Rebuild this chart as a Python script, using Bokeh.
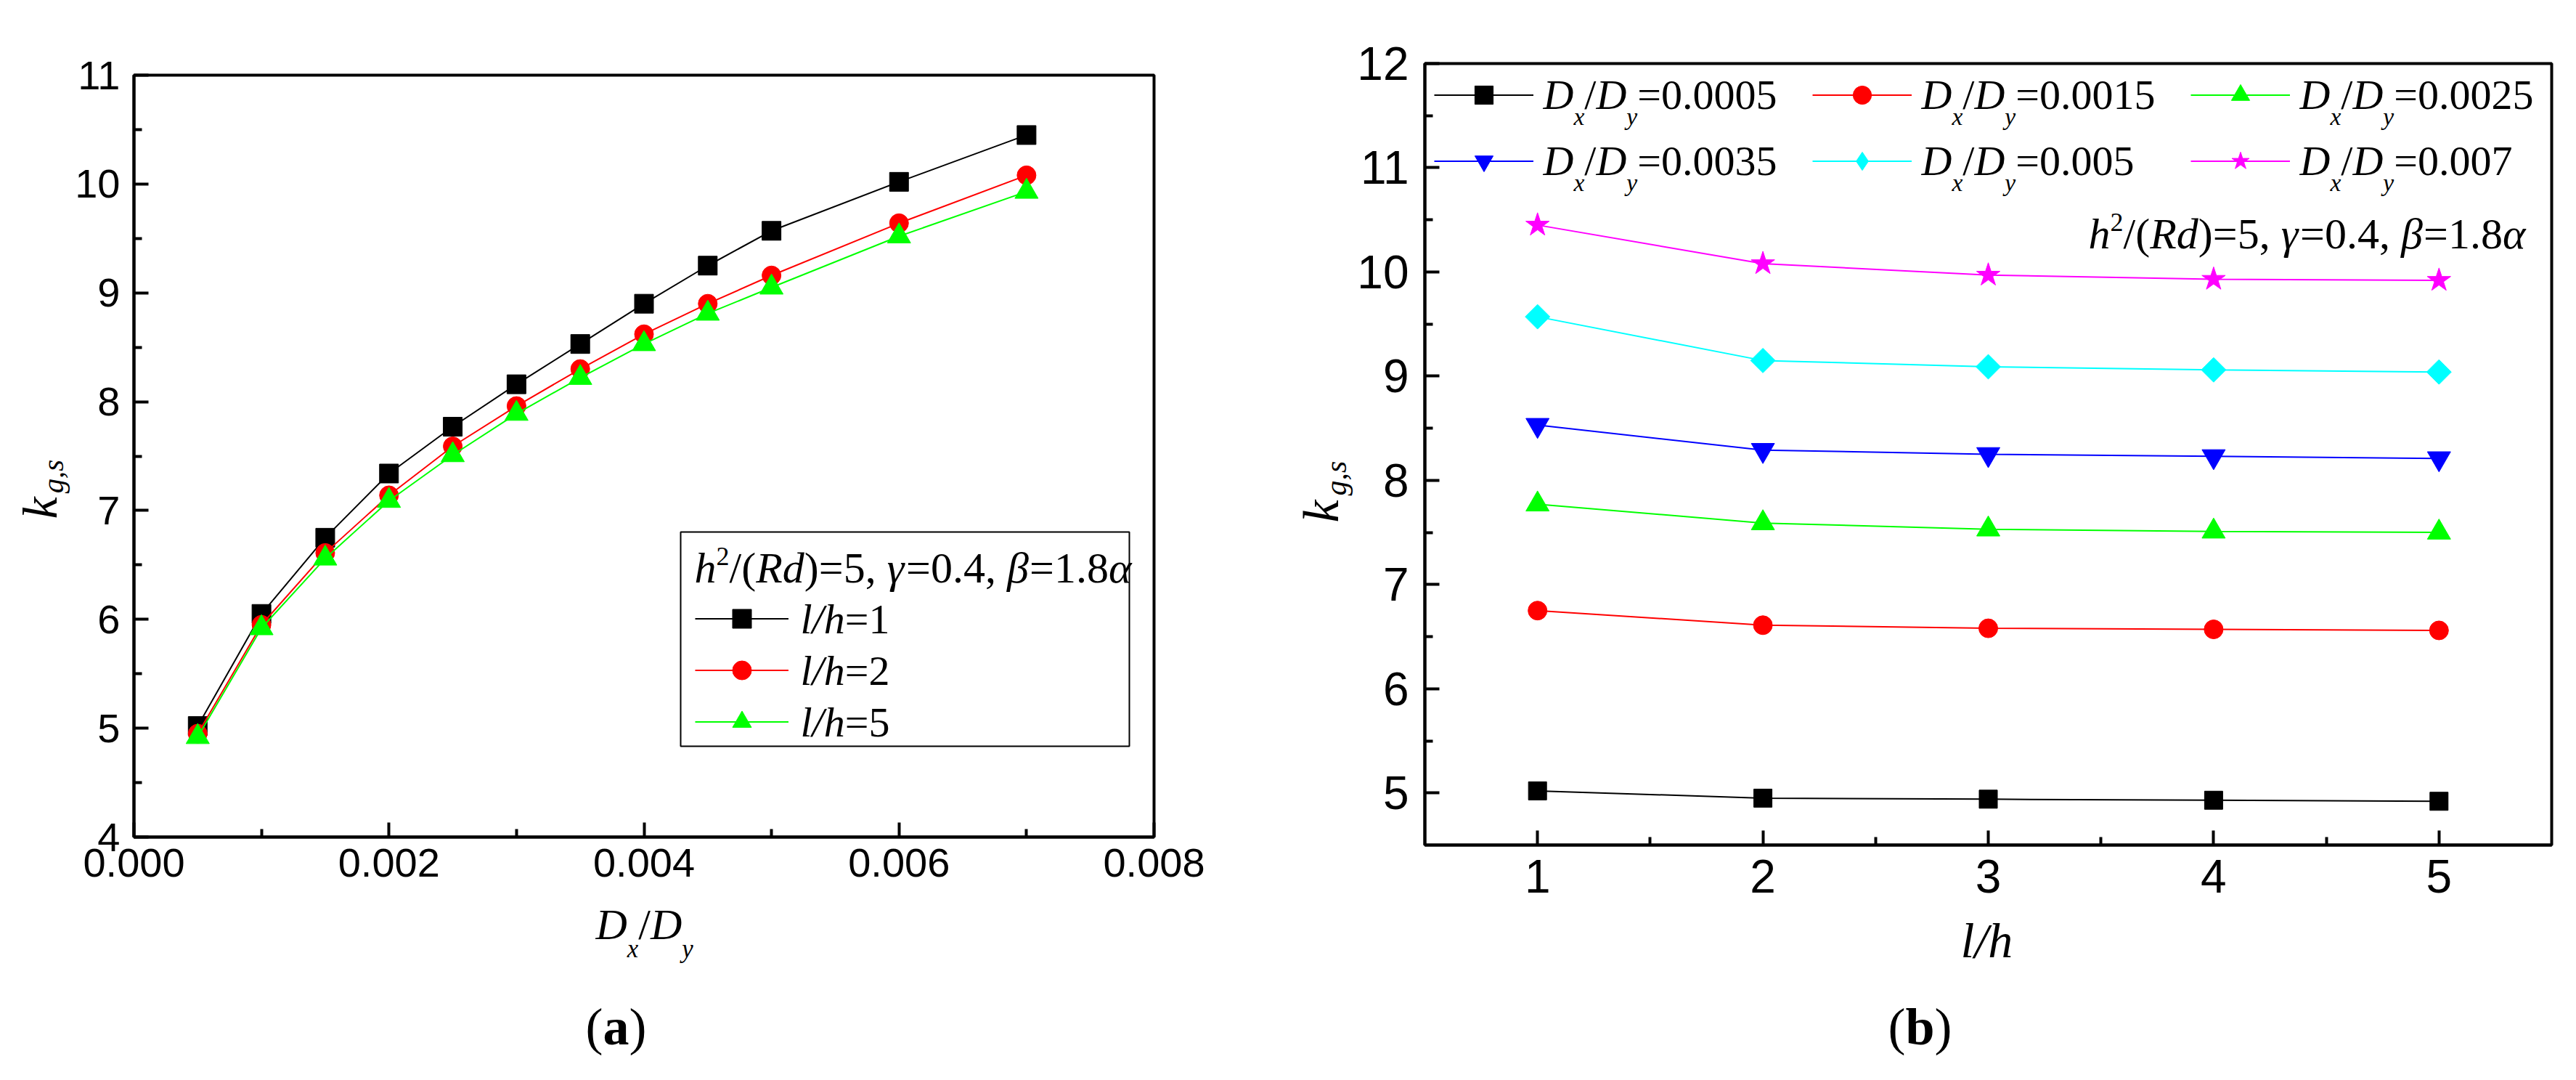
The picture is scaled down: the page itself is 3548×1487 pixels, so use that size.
import math
from bokeh.plotting import figure
from bokeh.layouts import row, column
from bokeh.models import (FixedTicker, PrintfTickFormatter, Legend, LegendItem, Label,
                          BoxAnnotation, Range1d)
from bokeh.embed import file_html
from bokeh.resources import INLINE

# ---------------- data: panel (a) ----------------
dxdy = [0.0005, 0.001, 0.0015, 0.002, 0.0025, 0.003, 0.0035, 0.004, 0.0045, 0.005, 0.006, 0.007]
k_lh1 = [5.02, 6.05, 6.75, 7.34, 7.77, 8.16, 8.53, 8.90, 9.25, 9.57, 10.02, 10.45]
k_lh2 = [4.95, 5.95, 6.61, 7.14, 7.59, 7.96, 8.30, 8.62, 8.90, 9.16, 9.64, 10.08]
k_lh5 = [4.92, 5.92, 6.56, 7.09, 7.51, 7.89, 8.22, 8.53, 8.81, 9.05, 9.52, 9.93]
a_labels = ["1", "2", "5"]
a_xticks = [0.0, 0.002, 0.004, 0.006, 0.008]
a_xminor = [0.001, 0.003, 0.005, 0.007]
a_yticks = [4, 5, 6, 7, 8, 9, 10, 11]
a_yminor = [4.5, 5.5, 6.5, 7.5, 8.5, 9.5, 10.5]

# ---------------- data: panel (b) ----------------
lh = [1, 2, 3, 4, 5]
k_0005 = [5.02, 4.95, 4.94, 4.93, 4.92]
k_0015 = [6.75, 6.61, 6.58, 6.57, 6.56]
k_0025 = [7.77, 7.59, 7.53, 7.51, 7.50]
k_0035 = [8.53, 8.29, 8.25, 8.23, 8.21]
k_005 = [9.57, 9.15, 9.09, 9.06, 9.04]
k_007 = [10.45, 10.08, 9.97, 9.93, 9.92]
b_labels = ["0.0005", "0.0015", "0.0025", "0.0035", "0.005", "0.007"]
b_xticks = [1, 2, 3, 4, 5]
b_xminor = [1.5, 2.5, 3.5, 4.5]
b_yticks = [5, 6, 7, 8, 9, 10, 11, 12]
b_yminor = [5.5, 6.5, 7.5, 8.5, 9.5, 10.5, 11.5]

SERIF = "Liberation Serif"
SANS = "Liberation Sans"

# Times-metric advance widths (1/1000 em)
W_R = {' ': 250, '(': 333, ')': 333, ',': 250, '.': 250, '/': 278, '=': 564,
       'α': 540, 'β': 520, 'γ': 440}
for d in "0123456789":
    W_R[d] = 500
W_I = {'h': 500, 'R': 611, 'd': 500, 'D': 722, 'x': 444, 'y': 444, 'l': 278, 'k': 444,
       'g': 500, 's': 389, ',': 250, '/': 278, 'α': 540, 'β': 520, 'γ': 440}
W_B = {'a': 500, 'b': 556, '(': 333, ')': 333}
MID = 0.34  # baseline lies this many em below the middle of the text box


def text_width(txt, style, fs):
    table = W_I if style == "italic" else (W_B if style == "bold" else W_R)
    return sum(table.get(ch, W_R.get(ch, 500)) for ch in txt) * fs / 1000.0


def rich(p, origin, parts, x, y, size, angle=0.0, color="black"):
    """Place a run of styled text pieces; x, y = page position of baseline start.
    parts: (text, style, scale, baseline shift, gap before)"""
    ox, oy = origin
    dx, dy = math.cos(angle), -math.sin(angle)
    nx, ny = math.sin(angle), math.cos(angle)
    pos = 0.0
    for part in parts:
        txt, style, scale, shift = part[:4]
        gap = part[4] if len(part) > 4 else 0
        pos += gap
        fs = size * scale
        off = shift - MID * fs
        cx = x + pos * dx + off * nx
        cy = y + pos * dy + off * ny
        p.add_layout(Label(x=cx - ox, y=cy - oy, x_units="canvas", y_units="canvas",
                           text=txt, angle=angle, text_font=SERIF, text_font_style=style,
                           text_font_size=f"{fs:.1f}px", text_color=color,
                           text_align="left", text_baseline="middle"))
        pos += text_width(txt, style, fs)


def text_fig(width, height):
    f = figure(width=width, height=height, x_range=Range1d(0, 1), y_range=Range1d(0, 1),
               x_axis_type=None, y_axis_type=None, toolbar_location=None,
               output_backend="svg", min_border=0)
    f.outline_line_color = None
    f.background_fill_color = "white"
    f.border_fill_color = "white"
    return f


def base_fig(width, height, xr, yr, borders, tick_fs, sx, sy):
    l, r, t, b = borders
    p = figure(width=width, height=height, x_range=Range1d(*xr), y_range=Range1d(*yr),
               output_backend="svg", toolbar_location=None,
               min_border_left=l, min_border_right=r, min_border_top=t, min_border_bottom=b)
    p.xgrid.visible = False
    p.ygrid.visible = False
    p.outline_line_color = "black"
    p.outline_line_width = 4
    p.outline_line_alpha = 1
    p.background_fill_color = "white"
    p.border_fill_color = "white"
    for ax in (p.xaxis[0], p.yaxis[0]):
        ax.axis_line_width = 4
        ax.major_tick_line_width = 4
        ax.minor_tick_line_width = 4
        ax.major_tick_in = 20
        ax.major_tick_out = 0
        ax.minor_tick_in = 11
        ax.minor_tick_out = 0
        ax.major_label_text_font = SANS
        ax.major_label_text_font_size = f"{tick_fs}px"
        ax.major_label_text_color = "black"
    p.xaxis[0].major_label_standoff = sx
    p.yaxis[0].major_label_standoff = sy
    return p


def italic_dxdy(sub_shift):
    return [("D", "italic", 1, 0), ("x", "italic", 0.58, sub_shift), ("/", "normal", 1, 0),
            ("D", "italic", 1, 0), ("y", "italic", 0.58, sub_shift)]


header = [("h", "italic", 1, 0), ("2", "normal", 0.6, -24), ("/(", "normal", 1, 0),
          ("Rd", "italic", 1, 0), (")=5, ", "normal", 1, 0), ("γ", "italic", 1, 0),
          ("=0.4, ", "normal", 1, 0), ("β", "italic", 1, 0), ("=1.8", "normal", 1, 0),
          ("α", "italic", 1, 0)]

# ======================= panel (a) =======================
# page x 0..1708 ; rows: plot 0..1240, text 1240..1487
OKA = (0, 0)
ka = text_fig(100, 1240)
OA = (100, 0)
pa = base_fig(1608, 1240, (0.0, 0.008), (4, 11), (83, 119, 103, 88), 56, 16, 19)
pa.xaxis[0].ticker = FixedTicker(ticks=a_xticks, minor_ticks=a_xminor)
pa.xaxis[0].formatter = PrintfTickFormatter(format="%.3f")
pa.yaxis[0].ticker = FixedTicker(ticks=a_yticks, minor_ticks=a_yminor)
pa.yaxis[0].formatter = PrintfTickFormatter(format="%d")
OBA = (0, 1240)
ba = text_fig(1708, 247)

a_series = [(k_lh1, "black", "square", 26), (k_lh2, "red", "circle", 26),
            (k_lh5, "#00ff00", "triangle", 32)]
a_items = []
for ys, col, mk, sz in a_series:
    ln = pa.line(dxdy, ys, line_color=col, line_width=2)
    sc = pa.scatter(dxdy, ys, marker=mk, size=sz, fill_color=col, line_color=col)
    a_items.append(LegendItem(label=" ", renderers=[ln, sc]))

pa.add_layout(BoxAnnotation(left=937 - OA[0], right=1555 - OA[0], top=732 - OA[1],
                            bottom=1027 - OA[1], left_units="canvas", right_units="canvas",
                            top_units="canvas", bottom_units="canvas",
                            fill_color="white", fill_alpha=1, line_color="black",
                            line_width=2, line_alpha=1))
leg_a = Legend(items=a_items, location=(773, 126), glyph_width=129, glyph_height=65,
               spacing=6, padding=0, margin=0, label_standoff=0, label_width=0,
               label_text_font_size="2px", border_line_color=None,
               background_fill_alpha=0)
pa.add_layout(leg_a)

rich(pa, OA, header, 956, 802, 60)
for i, lab in enumerate(a_labels):
    rich(pa, OA, [("l/h", "italic", 1, 0), ("=" + lab, "normal", 1, 0)],
         1102, 872 + 71 * i, 58)

rich(ka, OKA, [("k", "italic", 1, 0), ("g,s", "italic", 0.6, 9, 5)], 78, 714, 68,
     angle=math.pi / 2)
rich(ba, OBA, italic_dxdy(25), 820, 1293, 60)
rich(ba, OBA, [("(", "normal", 1, 0), ("a", "bold", 1, 0), (")", "normal", 1, 0)],
     806, 1438, 72)

# ======================= panel (b) =======================
# page x 1708..3548 ; rows: plot 0..1258, text 1258..1487
OKB = (1708, 0)
kb = text_fig(158, 1258)
OB = (1866, 0)
pb = base_fig(1682, 1258, (0.5, 5.5), (4.5, 12), (93, 34, 87, 95), 64, 20, 22)
pb.xaxis[0].ticker = FixedTicker(ticks=b_xticks, minor_ticks=b_xminor)
pb.xaxis[0].formatter = PrintfTickFormatter(format="%d")
pb.yaxis[0].ticker = FixedTicker(ticks=b_yticks, minor_ticks=b_yminor)
pb.yaxis[0].formatter = PrintfTickFormatter(format="%d")
OBB = (1708, 1258)
bb = text_fig(1840, 229)

# (values, colour, plot marker, size, angle, legend marker)
b_series = [(k_0005, "black", "square", 25, 0.0, "square"),
            (k_0015, "red", "circle", 26, 0.0, "circle"),
            (k_0025, "#00ff00", "triangle", 32, 0.0, "triangle"),
            (k_0035, "blue", "inverted_triangle", 32, 0.0, "inverted_triangle"),
            (k_005, "cyan", "square", 24, math.pi / 4, "diamond"),
            (k_007, "magenta", "star", 34, 0.0, "star")]
b_items = []
for ys, col, mk, sz, ang, lmk in b_series:
    ln = pb.line(lh, ys, line_color=col, line_width=2)
    sc = pb.scatter(lh, ys, marker=mk, size=sz, angle=ang, fill_color=col, line_color=col)
    if lmk != mk:
        # legend sample drawn with the marker shape seen in the legend (not shown in plot)
        sc = pb.scatter(lh, ys, marker=lmk, size=sz, fill_color=col, line_color=col,
                        visible=False)
    b_items.append(LegendItem(label=" ", renderers=[ln, sc]))

leg_b = Legend(items=b_items, location=(13, 910), orientation="horizontal", ncols=3,
               glyph_width=137, glyph_height=63, spacing=28, padding=0, margin=0,
               label_standoff=16, label_width=340, label_text_font_size="2px",
               border_line_color=None, background_fill_alpha=0)
pb.add_layout(leg_b)

for i, lab in enumerate(b_labels):
    r_, c_ = divmod(i, 3)
    rich(pb, OB, italic_dxdy(21) + [("=" + lab, "normal", 1, 0)],
         2125 + 521 * c_, 150 + 91 * r_, 58)

rich(pb, OB, header, 2876, 342, 60)

rich(kb, OKB, [("k", "italic", 1, 0), ("g,s", "italic", 0.6, 11, 6)], 1843, 719, 70,
     angle=math.pi / 2)
rich(bb, OBB, [("l/h", "italic", 1, 0)], 2700, 1318, 68)
rich(bb, OBB, [("(", "normal", 1, 0), ("b", "bold", 1, 0), (")", "normal", 1, 0)],
     2600, 1438, 72)

layout = row(column(row(ka, pa), ba), column(row(kb, pb), bb))
open("out.html", "w").write(file_html(layout, INLINE))
